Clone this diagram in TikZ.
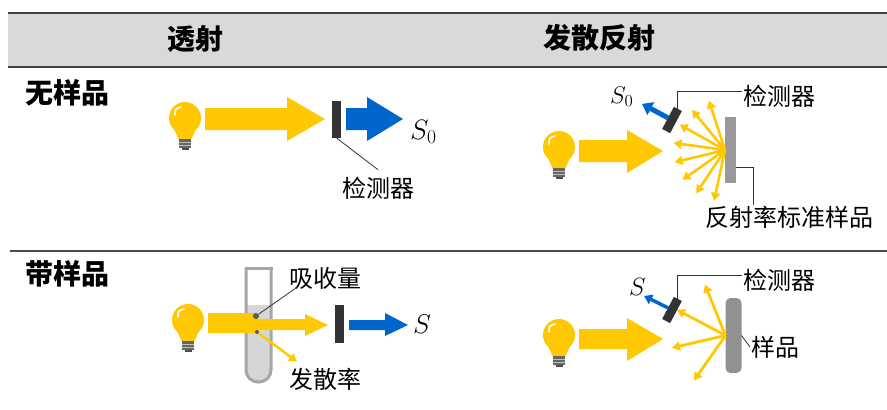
\RequirePackage{fix-cm}
\documentclass[tikz,border=0pt]{standalone}
\usepackage{fontspec}
\newfontfamily\cjk{Noto Sans CJK SC}
\usetikzlibrary{arrows.meta}

\definecolor{beam}{HTML}{FFC800}
\definecolor{signal}{HTML}{0066CC}
\definecolor{headgray}{HTML}{D9D9D9}
\definecolor{rulegray}{HTML}{404040}
\definecolor{plategray}{HTML}{999999}
\definecolor{tubegray}{HTML}{A6A6A6}
\definecolor{liquid}{HTML}{D6D6D6}

% light bulb, origin at the centre of the glass
\tikzset{lamp/.pic={
    \fill[beam] (0,0) circle (16);
    \fill[beam] (-11,11) -- (-6.5,21) -- (6.5,21) -- (11,11) -- cycle;
    \draw[white, line width=1.6pt, line cap=round] (-10,-3) .. controls (-10,-9) .. (-4,-11);
    \fill[black!60] (-6,21) rectangle (6,29.5);
    \draw[black!25, line width=0.8pt] (-6,24) -- (6,24) (-6,27) -- (6,27);
    \fill[black!70] (-3.5,29.5) rectangle (3.5,32);
}}

\begin{document}
\begin{tikzpicture}[x=1pt, y=-1pt]
    \tikzstyle{head} = [font=\cjk\bfseries\fontsize{28}{32}\selectfont, inner sep=1pt]
    \tikzstyle{tag} = [font=\cjk\fontsize{24}{28}\selectfont, inner sep=1pt]
    \tikzstyle{sig} = [inner sep=0pt, anchor=base west]
    \tikzstyle{detector} = [rectangle, fill=black!80, minimum width=9, minimum height=25, inner sep=0pt, outer sep=0pt]
    \tikzstyle{plate} = [rectangle, fill=plategray, minimum width=11, minimum height=66, inner sep=0pt, outer sep=0pt]
    \tikzstyle{sample} = [rectangle, rounded corners=5, fill=plategray!95!black, minimum width=16, minimum height=75, inner sep=0pt, outer sep=0pt]
    \tikzstyle{dot} = [circle, fill=black!65, inner sep=0pt, minimum size=6]
    \tikzstyle{lead} = [black!80, line width=0.8pt]
    \tikzstyle{ray} = [beam, line width=2.6pt, -{Triangle[length=8pt, width=9pt]}]
    \tikzstyle{pulse} = [signal, line width=5pt, -{Triangle[length=10pt, width=14pt]}]
    \useasboundingbox (0,0) rectangle (887,410);

    % table frame
    \fill[headgray] (8,13) rectangle (887,67);
    \draw[rulegray, line width=2pt] (8,13) -- (887,13) (8,67) -- (887,67);
    \draw[black!70, line width=2pt] (10,251) -- (887,251);
    \node[head] (hTrans) at (195,39) {透射};
    \node[head] (hDiff) at (599,38) {发散反射};
    \node[head] (rBlank) at (67,93) {无样品};
    \node[head] (rSample) at (67,274) {带样品};

    % transmission, no sample
    \pic at (185,118) {lamp};
    \fill[beam] (205,108) -- (287,108) -- (287,97) -- (325,119) -- (287,141) -- (287,130) -- (205,130) -- cycle;
    \node[detector, minimum height=37] (det1) at (336.5,119.5) {};
    \fill[signal] (346,108) -- (367,108) -- (367,97) -- (403,119) -- (367,141) -- (367,130) -- (346,130) -- cycle;
    \node[sig, font=\fontsize{28}{32}\selectfont] (s1) at (410,139) {$S_0$};
    \node[tag] (tDet1) at (378,188) {检测器};
    \draw[lead] (det1.south) -- ([yshift=6pt]tDet1.north);

    % diffuse reflection, standard
    \pic at (559,147) {lamp};
    \fill[beam] (579,140) -- (627,140) -- (627,130) -- (663,151) -- (627,173) -- (627,162) -- (579,162) -- cycle;
    \node[plate] (std) at (730.5,150) {};
    \foreach \a in {0,...,7}
        \draw[ray] (std.west) -- ++({-108-21.4*\a}:52);
    \node[detector, rotate=-28] (det2) at (672,120) {};
    \draw[pulse] (det2.west) -- ++(-26,-14);
    \node[sig, font=\fontsize{24}{28}\selectfont] (s2) at (610,103) {$S_0$};
    \node[tag, anchor=west] (tDet2) at (742,96) {检测器};
    \node[tag, anchor=west] (tStd) at (704,217) {反射率标准样品};
    \draw[lead] (det2.north) |- ([yshift=5pt]tDet2.west);
    \draw[lead] ([yshift=-17pt]std.east) -| ([xshift=49pt]tStd.north west);

    % transmission, with sample
    \pic at (188,320) {lamp};
    \path[fill=liquid, rounded corners=12] (246,305) -- (246,382) -- (271,382) -- (271,305);
    \draw[tubegray, line width=3pt, rounded corners=12] (246,268) -- (246,382) -- (271,382) -- (271,268);
    \draw[tubegray, line width=3pt] (244.5,268) -- (272.5,268);
    \fill[beam] (208,313) -- (254,313) -- (259,319) -- (305,319) -- (305,314) -- (328,325) -- (305,336) -- (305,330) -- (259,330) -- (254,333) -- (208,333) -- cycle;
    \node[dot] (dAbs) at (256,316) {};
    \node[dot, minimum size=4] (dSca) at (257,332) {};
    \node[detector, minimum height=38] (det3) at (339.5,324) {};
    \fill[signal] (349,320) -- (385,320) -- (385,313) -- (408,325) -- (385,336) -- (385,330) -- (349,330) -- cycle;
    \node[sig, font=\fontsize{27}{31}\selectfont] (s3) at (413,333) {$S$};
    \node[tag, anchor=west] (tAbs) at (288,278) {吸收量};
    \node[tag, anchor=west] (tSca) at (288,379) {发散率};
    \draw[lead] (dAbs) -- ([xshift=9pt, yshift=3pt]tAbs.south west);
    \draw[ray, line width=2.4pt] (dSca) -- ([xshift=9pt, yshift=5pt]tSca.north west);

    % diffuse reflection, with sample
    \pic at (559,335) {lamp};
    \fill[beam] (579,329) -- (627,329) -- (627,318) -- (663,339) -- (627,361) -- (627,349) -- (579,349) -- cycle;
    \node[sample] (smp) at (733.5,335.5) {};
    \foreach \a in {112,152,193,235}
        \draw[ray, line width=2.8pt] (smp.west) -- ++(-\a:55);
    \node[detector, rotate=-28] (det4) at (672,310) {};
    \draw[pulse, line width=3.5pt, -{Triangle[length=8pt, width=10pt]}] (det4.west) -- ++(-24,-12);
    \node[sig, font=\fontsize{25}{29}\selectfont] (s4) at (629,295) {$S$};
    \node[tag, anchor=west] (tDet4) at (742,280) {检测器};
    \node[tag, anchor=west] (tSmp) at (750,347) {样品};
    \draw[lead] (det4.north) |- ([yshift=5pt]tDet4.west);
    \draw[lead] (smp.east) -- (tSmp.west);
\end{tikzpicture}
\end{document}
